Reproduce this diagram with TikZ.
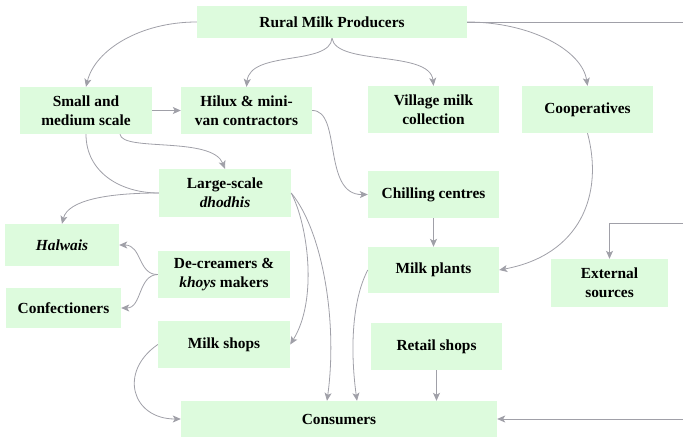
\documentclass[tikz,border=0pt]{standalone}
\usepackage{fontspec}
\setmainfont{Liberation Serif}
\usetikzlibrary{arrows.meta}
\definecolor{boxgreen}{RGB}{221,251,221}
\definecolor{flowgray}{RGB}{160,160,168}
\begin{document}
\begin{tikzpicture}[x=1pt,y=-1pt,
  box/.style={fill=boxgreen,draw=none,inner sep=0pt,align=center,
    font=\fontsize{15.4}{19}\selectfont\bfseries},
  flow/.style={draw=flowgray,line width=0.8pt},
  arr/.style={flow,-{Stealth[length=8pt,width=7pt,inset=2pt]}}]
\useasboundingbox (0,0) rectangle (683,438);

% boxes
\node[box,minimum width=270,minimum height=32] (rural)  at (332,22)    {Rural Milk Producers};
\node[box,minimum width=132,minimum height=47] (small)  at (86,110.5)  {Small and\\medium scale};
\node[box,minimum width=131,minimum height=47] (hilux)  at (246.5,110.5) {Hilux \& mini-\\van contractors};
\node[box,minimum width=131,minimum height=47] (village) at (433.5,109.5) {Village milk\\collection};
\node[box,minimum width=131,minimum height=47] (coop)   at (587.5,109.5) {Cooperatives};
\node[box,minimum width=132,minimum height=48] (large)  at (225,193)   {Large-scale\\\textit{dhodhis}};
\node[box,minimum width=131,minimum height=47] (chill)  at (433.5,194.5) {Chilling centres};
\node[box,minimum width=114,minimum height=42] (halwais) at (62,245)   {\textit{Halwais}};
\node[box,minimum width=132,minimum height=47] (decream) at (224,274.5) {De-creamers \&\\\textit{khoys} makers};
\node[box,minimum width=131,minimum height=46] (plants) at (433.5,270) {Milk plants};
\node[box,minimum width=117,minimum height=48] (ext)    at (609.5,283) {External\\sources};
\node[box,minimum width=115,minimum height=40] (conf)   at (63.5,308)  {Confectioners};
\node[box,minimum width=132,minimum height=47] (shops)  at (224,344.5) {Milk shops};
\node[box,minimum width=131,minimum height=47] (retail) at (436.5,346.5) {Retail shops};
\node[box,minimum width=316,minimum height=36] (cons)   at (339,419)   {Consumers};

% free ends at the right margin
\coordinate (outtop)  at (683,22);
\coordinate (inext)   at (683,223);
\coordinate (incons)  at (683,419);

% producers
\draw[arr] (rural.west) .. controls (140,22) and (95,50) .. (small.north);
\draw[arr] (rural.south) .. controls (330,66) and (250,50) .. (hilux.north);
\draw[arr] (rural.south) .. controls (336,66) and (430,50) .. (village.north);
\draw[arr] (rural.east) .. controls (530,22) and (582,50) .. (coop.north);
\draw[flow] (rural.east) -- (outtop);

% middlemen
\draw[arr] (small.east) -- (hilux.west);
\draw[arr] ([xshift=34]small.south) .. controls (122,152) and (212,136) .. (large.north);
\draw[flow] (small.south) .. controls (86,172) and (120,193) .. (large.west);
\draw[arr] (large.west) .. controls (108,193) and (68,200) .. (halwais.north);
\draw[arr] (hilux.east) .. controls (342,110) and (322,195) .. (chill.west);
\draw[arr] (chill.south) -- (plants.north);
\draw[arr] (coop.south) .. controls (604,195) and (580,255) .. (plants.east);
\draw[arr] (decream.west) .. controls (138,275) and (142,245) .. (halwais.east);
\draw[arr] (decream.west) .. controls (138,275) and (142,308) .. (conf.east);
\draw[arr] (inext) -| (ext.north);

% to consumers
\draw[arr] (large.east) .. controls (308,225) and (318,300) .. (shops.east);
\draw[arr] (large.east) .. controls (322,230) and (338,320) .. ([xshift=-12]cons.north);
\draw[arr] (plants.west) .. controls (352,300) and (350,350) .. ([xshift=18]cons.north);
\draw[arr] (retail.south) -- (retail.south |- cons.north);
\draw[arr] (shops.west) .. controls (118,372) and (132,419) .. (cons.west);
\draw[arr] (incons) -- (cons.east);
\end{tikzpicture}
\end{document}
